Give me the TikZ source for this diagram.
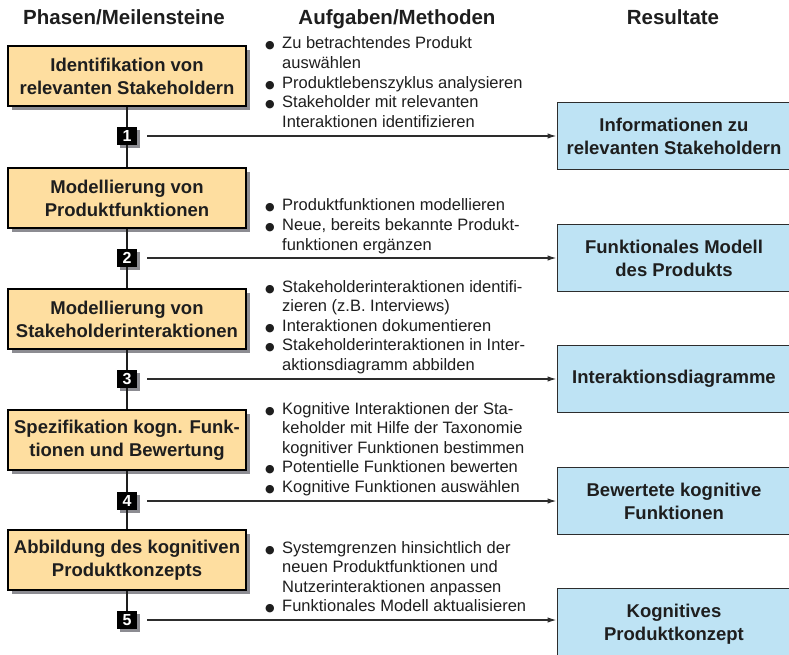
\documentclass[tikz,border=0pt]{standalone}
\usepackage{fontspec}
\setmainfont{Liberation Sans}
\newfontfamily\symfont{DejaVu Sans}
\usetikzlibrary{shadows,arrows.meta}

\definecolor{phasefill}{RGB}{254,222,160}
\definecolor{resfill}{RGB}{190,227,244}
\definecolor{shadowgray}{RGB}{140,140,146}
\definecolor{inkdark}{RGB}{30,30,30}
\definecolor{linegray}{RGB}{45,45,45}

% bullet and hanging indent for the task lists
\newcommand\bul{\makebox[17pt][l]{\raisebox{0pt}{\symfont\fontsize{11}{11}\selectfont ●}}}
\newcommand\ind{\hspace*{17pt}}

\tikzset{
  header/.style={anchor=base, inner sep=0pt, text=inkdark,
    font=\bfseries\fontsize{20.5}{24}\selectfont},
  phase/.style={draw=black, line width=1.2pt, fill=phasefill,
    minimum width=238pt, minimum height=60pt, inner sep=0pt, align=center,
    text=inkdark, font=\bfseries\fontsize{18.5}{23}\selectfont,
    drop shadow={shadow xshift=4pt, shadow yshift=-4pt, fill=shadowgray, opacity=1}},
  milestone/.style={fill=black, text=white, minimum width=20pt, minimum height=18pt,
    inner sep=0pt, font=\bfseries\fontsize{16}{16}\selectfont,
    drop shadow={shadow xshift=3pt, shadow yshift=-3pt, fill=shadowgray, opacity=1}},
  result/.style={draw=linegray, line width=1pt, fill=resfill,
    minimum width=234pt, minimum height=67pt, inner sep=0pt, align=center,
    text=inkdark, font=\bfseries\fontsize{18.5}{23}\selectfont},
  tasks/.style={anchor=base west, inner sep=0pt, text=inkdark},
  spine/.style={draw=inkdark, line width=2pt},
  resarrow/.style={draw=linegray, line width=1.3pt, shorten <=10pt,
    -{Latex[length=9pt,width=5.5pt]}},
}

\begin{document}
\begin{tikzpicture}[x=1pt,y=-1pt]
\useasboundingbox (0,0) rectangle (789,655);

% column headings
\node[header] (h1) at (124,25) {Phasen/Meilensteine};
\node[header] (h2) at (397,25) {Aufgaben/Methoden};
\node[header] (h3) at (673,25) {Resultate};

% phases
\node[phase] (b1) at (127,76)  {Identifikation von\\relevanten Stakeholdern};
\node[phase] (b2) at (127,198) {Modellierung von\\Produktfunktionen};
\node[phase] (b3) at (127,319) {Modellierung von\\Stakeholderinteraktionen};
\node[phase] (b4) at (127,440) {Spezifikation kogn. Funk-\\tionen und Bewertung};
\node[phase] (b5) at (127,560) {Abbildung des kognitiven\\Produktkonzepts};

% milestones
\node[milestone] (m1) at (127,136) {1};
\node[milestone] (m2) at (127,258) {2};
\node[milestone] (m3) at (127,379) {3};
\node[milestone] (m4) at (127,501) {4};
\node[milestone] (m5) at (127,620) {5};

% results (the last one runs past the lower edge)
\node[result] (r1) at (674,136) {Informationen zu\\relevanten Stakeholdern};
\node[result] (r2) at (674,258) {Funktionales Modell\\des Produkts};
\node[result] (r3) at (674,379) {Interaktionsdiagramme};
\node[result] (r4) at (674,501) {Bewertete kognitive\\Funktionen};
\node[result, minimum height=72pt] (r5) at (674,624) {Kognitives\\Produktkonzept};

% phase spine
\draw[spine] (b1) -- (m1);
\draw[spine] (m1) -- (b2);
\draw[spine] (b2) -- (m2);
\draw[spine] (m2) -- (b3);
\draw[spine] (b3) -- (m3);
\draw[spine] (m3) -- (b4);
\draw[spine] (b4) -- (m4);
\draw[spine] (m4) -- (b5);
\draw[spine] (b5) -- (m5);

% milestone to result
\draw[resarrow] (m1) -- (r1);
\draw[resarrow] (m2) -- (r2);
\draw[resarrow] (m3) -- (r3);
\draw[resarrow] (m4) -- (r4);
\draw[resarrow] (m5) -- (m5 -| r5.west);

% task lists
\node[tasks] (t1) at (265,49) {\parbox[t]{290pt}{\fontsize{16.5}{19.6}\selectfont
  \bul Zu betrachtendes Produkt\\
  \ind auswählen\\
  \bul Produktlebenszyklus analysieren\\
  \bul Stakeholder mit relevanten\\
  \ind Interaktionen identifizieren}};
\node[tasks] (t2) at (265,211) {\parbox[t]{290pt}{\fontsize{16.5}{19.6}\selectfont
  \bul Produktfunktionen modellieren\\
  \bul Neue, bereits bekannte Produkt-\\
  \ind funktionen ergänzen}};
\node[tasks] (t3) at (265,292) {\parbox[t]{290pt}{\fontsize{16.5}{19.6}\selectfont
  \bul Stakeholderinteraktionen identifi-\\
  \ind zieren (z.B. Interviews)\\
  \bul Interaktionen dokumentieren\\
  \bul Stakeholderinteraktionen in Inter-\\
  \ind aktionsdiagramm abbilden}};
\node[tasks] (t4) at (265,414) {\parbox[t]{290pt}{\fontsize{16.5}{19.6}\selectfont
  \bul Kognitive Interaktionen der Sta-\\
  \ind keholder mit Hilfe der Taxonomie\\
  \ind kognitiver Funktionen bestimmen\\
  \bul Potentielle Funktionen bewerten\\
  \bul Kognitive Funktionen auswählen}};
\node[tasks] (t5) at (265,553) {\parbox[t]{290pt}{\fontsize{16.5}{19.6}\selectfont
  \bul Systemgrenzen hinsichtlich der\\
  \ind neuen Produktfunktionen und\\
  \ind Nutzerinteraktionen anpassen\\
  \bul Funktionales Modell aktualisieren}};
\end{tikzpicture}
\end{document}
